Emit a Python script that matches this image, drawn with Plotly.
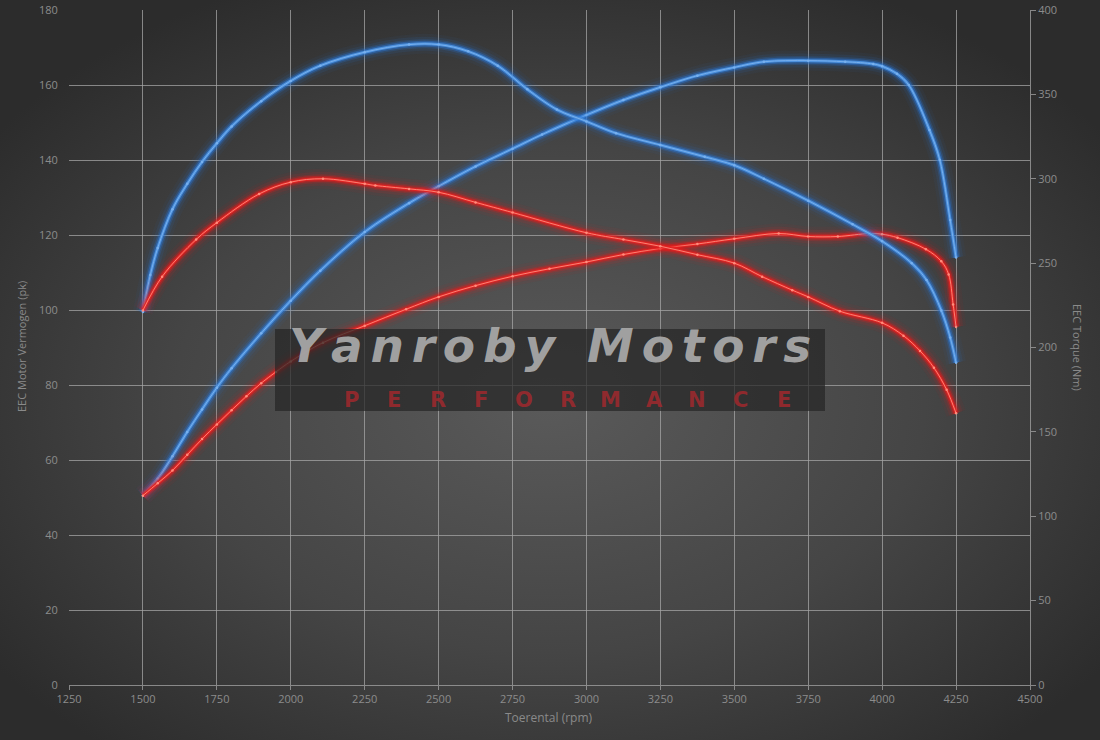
import base64
import plotly.graph_objects as go

# ---------------- data ----------------
blue_torque_rpm = [1500, 1525, 1550, 1600, 1650, 1700, 1750, 1800, 1900, 2000, 2100, 2250, 2400, 2500,
                   2600, 2700, 2800, 2900, 3000, 3100, 3250, 3400, 3500, 3600, 3750, 3900,
                   4000, 4100, 4150, 4200, 4230, 4250]
blue_torque_nm = [221, 243, 259, 282, 297, 310, 321, 331, 346, 358, 367, 375, 379.5, 379.5,
                  375.5, 367, 353, 341, 334, 327, 320, 313, 308, 300, 287, 273,
                  263, 250, 240, 222, 206, 191]

blue_power_rpm = [1500, 1550, 1600, 1650, 1700, 1750, 1800, 1900, 2000, 2100, 2250, 2400, 2500,
                  2625, 2750, 2850, 3000, 3125, 3250, 3375, 3500, 3600, 3750, 3875, 3970, 4000,
                  4050, 4090, 4160, 4195, 4230, 4250]
blue_power_pk = [50.5, 55, 61, 67.5, 73.5, 79.3, 84.5, 93.8, 102.5, 110.5, 120.8, 128.5, 133,
                 138.3, 143, 146.8, 152, 156, 159.4, 162.5, 164.7, 166.2, 166.5, 166.2, 165.6, 165,
                 163, 160, 148, 140, 124, 114]

red_torque_rpm = [1500, 1565, 1680, 1750, 1893, 2000, 2109, 2250, 2286, 2400, 2500, 2625, 2750,
                  3000, 3125, 3250, 3375, 3500, 3594, 3696, 3750, 3857, 4000, 4072, 4128, 4175,
                  4218, 4250]
red_torque_nm = [222, 242, 264, 274, 291, 298, 300, 297, 296, 294, 292, 286, 280,
                 268, 264, 260, 255, 250, 242, 234, 230, 221.5, 214.6, 207, 198, 188,
                 175, 161]

red_power_rpm = [1500, 1550, 1600, 1650, 1700, 1750, 1800, 1850, 1900, 1950, 2000, 2109, 2250,
                 2390, 2500, 2625, 2750, 2875, 3000, 3125, 3250, 3375, 3500, 3650, 3750, 3850,
                 3957, 4000, 4052, 4148, 4200, 4225, 4240, 4250]
red_power_pk = [50.5, 53.8, 57.2, 61.4, 65.6, 69.5, 73.3, 77, 80.5, 83.5, 86.3, 91.3, 95.8,
                100.2, 103.5, 106.5, 109, 111, 112.8, 114.8, 116.4, 117.6, 119, 120.4, 119.6, 119.6,
                120.4, 120.2, 119.3, 116.2, 113, 109.5, 101.5, 95.5]

x_ticks = list(range(1250, 4501, 250))
left_ticks = list(range(0, 181, 20))
right_ticks = list(range(0, 401, 50))

x_title = "Toerental (rpm)"
left_title = "EEC Motor Vermogen (pk)"
right_title = "EEC Torque (Nm)"
brand = "Yanroby Motors"
brand_sub = "PERFORMANCE"

# ---------------- figure ----------------
W, H = 1100, 740
ML, MR, MT, MB = 69, 70, 10, 55
PW, PH = W - ML - MR, H - MT - MB

def px_x(px):
    return (px - ML) / PW

def px_y(py):
    return (MT + PH - py) / PH

fig = go.Figure()

def glow_line(x, y, yaxis, rgb, core, hi, hi_w):
    for w, a in [(20, 0.05), (14, 0.10), (9, 0.2), (6, 0.42)]:
        fig.add_trace(go.Scatter(x=x, y=y, yaxis=yaxis, mode="lines",
                                 line=dict(color=f"rgba({rgb},{a})", width=w, shape="spline", smoothing=1.0),
                                 hoverinfo="skip", showlegend=False))
    fig.add_trace(go.Scatter(x=x, y=y, yaxis=yaxis, mode="lines",
                             line=dict(color=core, width=3, shape="spline", smoothing=1.0),
                             hoverinfo="skip", showlegend=False))
    fig.add_trace(go.Scatter(x=x, y=y, yaxis=yaxis, mode="lines+markers",
                             line=dict(color=hi, width=hi_w, shape="spline", smoothing=1.0),
                             marker=dict(size=2.5, color=hi),
                             showlegend=False))

glow_line(blue_torque_rpm, blue_torque_nm, "y2", "40,120,220", "#4a8fdc", "#78b0ee", 1.0)
glow_line(blue_power_rpm, blue_power_pk, "y", "40,120,220", "#4a8fdc", "#78b0ee", 1.0)
glow_line(red_torque_rpm, red_torque_nm, "y2", "235,25,25", "#e02424", "#ff8c7c", 0.9)
glow_line(red_power_rpm, red_power_pk, "y", "235,25,25", "#e02424", "#ff8c7c", 0.9)

# background radial gradient (whole page)
svg = f'''<svg xmlns="http://www.w3.org/2000/svg" width="{W}" height="{H}" viewBox="0 0 {W} {H}" preserveAspectRatio="none">
<defs><radialGradient id="g" cx="0.5" cy="0.54" r="0.62">
<stop offset="0" stop-color="#5a5a5a"/><stop offset="0.55" stop-color="#454545"/><stop offset="1" stop-color="#2c2c2c"/>
</radialGradient></defs><rect width="{W}" height="{H}" fill="url(#g)"/></svg>'''
src = "data:image/svg+xml;base64," + base64.b64encode(svg.encode()).decode()
fig.add_layout_image(dict(source=src, xref="paper", yref="paper",
                          x=-ML / PW, y=1 + MT / PH, sizex=W / PW, sizey=H / PH,
                          sizing="stretch", xanchor="left", yanchor="top", layer="below"))

# watermark box
fig.add_shape(type="rect", xref="paper", yref="paper",
              x0=px_x(275), x1=px_x(825), y0=px_y(411), y1=px_y(329),
              fillcolor="rgba(38,38,38,0.72)", line=dict(width=0), layer="above")
brand_spaced = "\u2006".join(brand)
fig.add_annotation(xref="paper", yref="paper", x=px_x(550), y=px_y(345),
                   xanchor="center", yanchor="middle",
                   text=f"<b><i>{brand_spaced}</i></b>", showarrow=False,
                   font=dict(family="DejaVu Sans", size=47, color="rgba(168,168,168,0.95)"))
n = len(brand_sub)
for i, ch in enumerate(brand_sub):
    px = 351 + i * (784 - 351) / (n - 1)
    fig.add_annotation(xref="paper", yref="paper", x=px_x(px), y=px_y(400),
                       xanchor="center", yanchor="middle",
                       text=f"<b>{ch}</b>", showarrow=False,
                       font=dict(family="DejaVu Sans", size=21, color="rgba(170,40,45,0.78)"))

# axis titles
fig.add_annotation(xref="paper", yref="paper", x=px_x(21), y=px_y(347),
                   xanchor="center", yanchor="middle",
                   text=left_title, textangle=-90, showarrow=False,
                   font=dict(family="Open Sans", size=11, color="#8a8a8a"))
fig.add_annotation(xref="paper", yref="paper", x=px_x(1078), y=px_y(347),
                   xanchor="center", yanchor="middle",
                   text=right_title, textangle=90, showarrow=False,
                   font=dict(family="Open Sans", size=11, color="#8a8a8a"))
fig.add_annotation(xref="paper", yref="paper", x=px_x(549), y=px_y(717),
                   xanchor="center", yanchor="middle",
                   text=x_title, showarrow=False,
                   font=dict(family="Open Sans", size=12, color="#8a8a8a"))

tickfont = dict(family="Open Sans", size=11, color="#8c8c8c")
grid = "rgba(165,165,165,0.75)"
fig.update_layout(
    width=W, height=H,
    margin=dict(l=ML, r=MR, t=MT, b=MB, autoexpand=False),
    paper_bgcolor="#333333", plot_bgcolor="rgba(0,0,0,0)",
    showlegend=False,
    xaxis=dict(range=[1250, 4500], tickvals=x_ticks, ticktext=[str(v) for v in x_ticks],
               showgrid=True, gridcolor=grid, gridwidth=1, zeroline=False,
               showline=True, linecolor=grid, linewidth=1, automargin=False,
               ticks="outside", ticklen=4, tickcolor=grid, tickfont=tickfont),
    yaxis=dict(range=[0, 180], tickvals=left_ticks, showgrid=True, gridcolor=grid, gridwidth=1,
               zeroline=False, showline=False, ticks="outside", ticklen=8, automargin=False,
               tickcolor="rgba(0,0,0,0)", tickfont=tickfont),
    yaxis2=dict(range=[0, 400], tickvals=right_ticks, overlaying="y", side="right",
                showgrid=False, zeroline=False, showline=True, linecolor=grid, linewidth=1,
                automargin=False,
                ticks="outside", ticklen=5, tickcolor=grid, tickfont=tickfont),
)

fig.write_html("out.html", config={"displayModeBar": False},
               post_script="document.body.style.margin='0';document.body.style.padding='0';"
                           "document.body.style.overflow='hidden';document.body.style.background='#2c2c2c';")
